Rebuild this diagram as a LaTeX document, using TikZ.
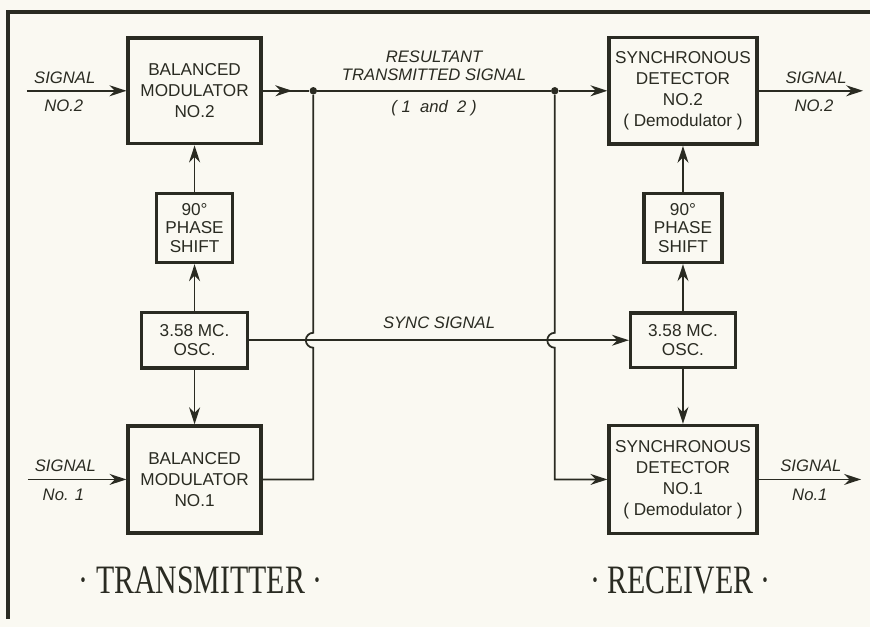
\documentclass[tikz,border=0pt]{standalone}
\usepackage{fontspec}
\setmainfont{Liberation Sans}
\newfontfamily\titlefont[FakeStretch=0.74]{Liberation Serif}
\usetikzlibrary{calc,positioning,arrows.meta}
\definecolor{papel}{HTML}{FAF9F2}
\definecolor{tinta}{HTML}{2A2B22}

\begin{document}
\begin{tikzpicture}[x=1cm,y=1cm, tinta, font=\fontsize{9.8}{12}\selectfont,
    blk/.style={draw=tinta, line width=2pt, fill=papel, align=center},
    small/.style={font=\fontsize{9.8}{10.6}\selectfont},
    wire/.style={line width=1pt},
    sig/.style={-{Stealth[length=3.4mm,width=2.2mm,inset=1.1mm]}, line width=1pt},
    lbl/.style={font=\fontsize{9.5}{10.6}\selectfont\itshape, inner sep=2pt, align=center},
    dot/.style={circle, fill=tinta, inner sep=0pt, minimum size=1.5mm},
    ttl/.style={font=\titlefont\fontsize{23}{26}\selectfont}]
  \fill[papel] (0,0) rectangle (17.44,12.56);
  \draw[line width=2.2pt] (0.16,0.16) -- (0.16,12.32) -- (17.44,12.32);
  % transmitter
  \node[blk, minimum width=2.66cm, minimum height=2.12cm] (bm2) at (3.9,10.74) {BALANCED\\MODULATOR\\NO.2};
  \node[blk, small, minimum width=1.52cm, minimum height=1.38cm] (ps1) at (3.9,7.99) {90°\\PHASE\\SHIFT};
  \node[blk, small, minimum width=2.12cm, minimum height=1.12cm] (osc1) at (3.9,5.74) {3.58 MC.\\OSC.};
  \node[blk, minimum width=2.66cm, minimum height=2.14cm] (bm1) at (3.9,2.95) {BALANCED\\MODULATOR\\NO.1};
  % receiver
  \node[blk, minimum width=2.96cm, minimum height=2.14cm] (sd2) at (13.69,10.74) {SYNCHRONOUS\\DETECTOR\\NO.2\\( Demodulator )};
  \node[blk, small, minimum width=1.56cm, minimum height=1.38cm] (ps2) at (13.69,7.99) {90°\\PHASE\\SHIFT};
  \node[blk, small, minimum width=2.1cm, minimum height=1.1cm] (osc2) at (13.69,5.74) {3.58 MC.\\OSC.};
  \node[blk, minimum width=2.96cm, minimum height=2.16cm] (sd1) at (13.69,2.95) {SYNCHRONOUS\\DETECTOR\\NO.1\\( Demodulator )};
  \coordinate (in2) at (0.54,10.74);
  \coordinate (in1) at (0.56,2.95);
  \coordinate (out2) at (17.3,10.74);
  \coordinate (out1) at (17.26,2.95);
  \node[dot] (j1) at (6.28,10.74) {};
  \node[dot] (j2) at (11.12,10.74) {};
  % signal in / out
  \draw[sig] (in2) -- node[lbl, above=0.06cm, pos=0.38]{SIGNAL} node[lbl, below=0.1cm, pos=0.37]{NO.2} (bm2.west);
  \draw[sig] (in1) -- node[lbl, above=0.06cm, pos=0.38]{SIGNAL} node[lbl, below=0.1cm, pos=0.36]{No. 1} (bm1.west);
  \draw[sig] (sd2.east) -- node[lbl, above=0.06cm, pos=0.55]{SIGNAL} node[lbl, below=0.1cm, pos=0.53]{NO.2} (out2);
  \draw[sig] (sd1.east) -- node[lbl, above=0.06cm, pos=0.51]{SIGNAL} node[lbl, below=0.1cm, pos=0.5]{No.1} (out1);
  % resultant line
  \draw[wire] (bm2.east) -- (j1) -- (j2);
  \draw[sig, shorten >=0.34cm] (bm2.east) -- (j1);
  \draw[sig] (j2) -- (sd2.west);
  \path (j1) -- node[lbl, above=0.12cm]{RESULTANT\\TRANSMITTED SIGNAL} node[lbl, below=0.12cm]{(\ 1\ \ and\ \ 2\ )} (j2);
  % oscillators
  \draw[sig] (osc1.north) -- (ps1.south);
  \draw[sig] (ps1.north) -- (bm2.south);
  \draw[sig] (osc1.south) -- (bm1.north);
  \draw[sig] (osc2.north) -- (ps2.south);
  \draw[sig] (ps2.north) -- (sd2.south);
  \draw[sig] (osc2.south) -- (sd1.north);
  \draw[sig] (osc1.east) -- node[lbl, above=0.14cm]{SYNC SIGNAL} (osc2.west);
  % crossings
  \draw[wire] (bm1.east) -- (bm1.east -| j1) -- ($(osc1.east -| j1)+(0,-0.15)$) arc[start angle=270, end angle=90, radius=0.15] -- (j1);
  \draw[sig] (j2) -- ($(osc2.west -| j2)+(0,0.15)$) arc[start angle=90, end angle=270, radius=0.15] -- (j2 |- sd1.west) -- (sd1.west);
  \node[ttl] (tx) at (4.02,0.93) {· TRANSMITTER ·};
  \node[ttl] (rx) at (13.64,0.93) {· RECEIVER ·};
\end{tikzpicture}
\end{document}
